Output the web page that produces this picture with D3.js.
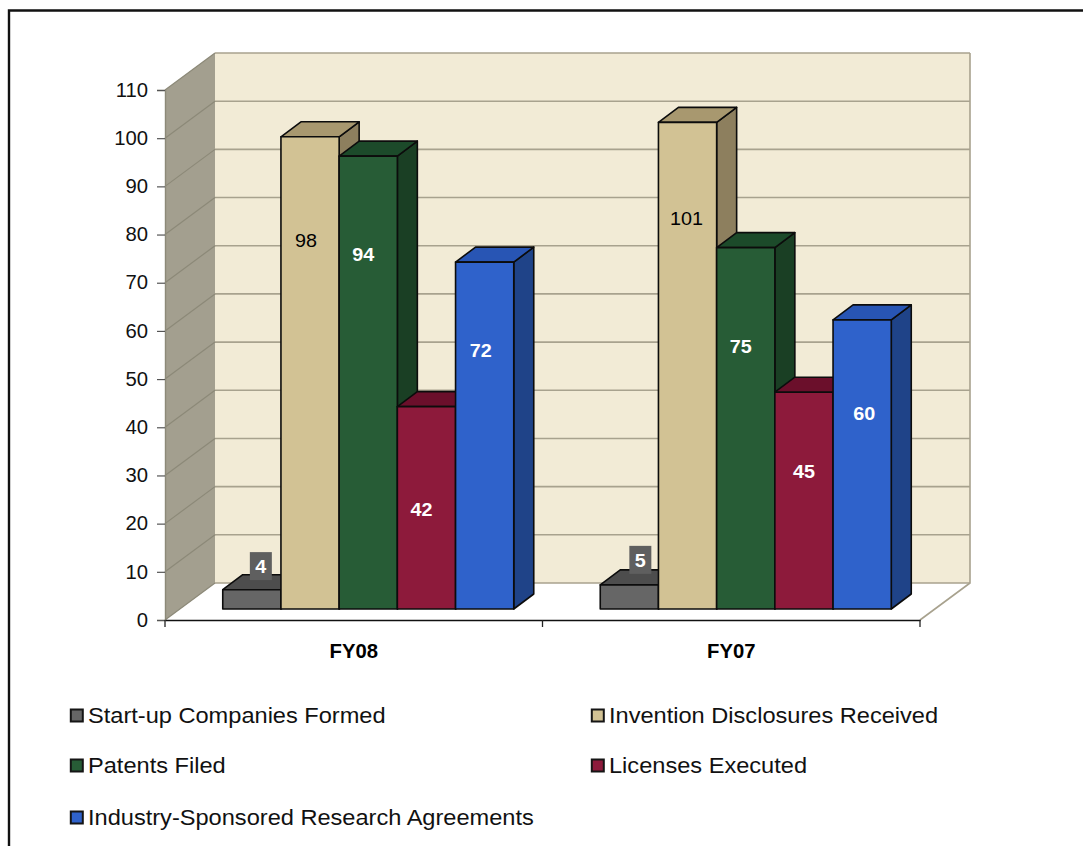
<!DOCTYPE html>
<html>
<head>
<meta charset="utf-8">
<script src="https://cdn.jsdelivr.net/npm/d3@7"></script>
<style>
  html, body { margin: 0; padding: 0; background: #fff; overflow: hidden; }
  svg { display: block; font-family: "Liberation Sans", Arial, sans-serif; }
</style>
</head>
<body>
<svg id="chart" width="1083" height="846"></svg>
<script>
// Fiscal-year groups and series
const years = ["FY08", "FY07"];
const seriesNames = [
  "Start-up Companies Formed",
  "Invention Disclosures Received",
  "Patents Filed",
  "Licenses Executed",
  "Industry-Sponsored Research Agreements"
];
const valuesFY08 = [4, 98, 94, 42, 72];
const valuesFY07 = [5, 101, 75, 45, 60];
const yTicks = [0, 10, 20, 30, 40, 50, 60, 70, 80, 90, 100, 110];

// Face colours per series
const frontColors = ["#666666", "#d2c294", "#275c36", "#8d1a3b", "#2f62cb"];
const topColors   = ["#4d4d4d", "#a8986f", "#1c4a2a", "#6b0f2b", "#2855b4"];
const sideColors  = ["#4a4a4a", "#8d7f5e", "#1a3f24", "#5e0e26", "#1f4388"];
const labelColors = ["#fff", "#000", "#fff", "#fff", "#fff"];

// Hand placement of the value labels: level on the value axis, and sideways nudge
const labelLevelsFY08 = [8.9, 76.6, 73.7, 20.8, 53.8];
const labelLevelsFY07 = [10.2, 81.2, 54.6, 28.6, 40.7];
const labelNudgeFY08 = [9, -4, -5, -5, -4];
const labelNudgeFY07 = [11, -1, -5, 0, 2];

const rows = [valuesFY08, valuesFY07];
const labelLevels = [labelLevelsFY08, labelLevelsFY07];
const labelNudges = [labelNudgeFY08, labelNudgeFY07];

// Plot geometry: front plane, box depth, and bar depth
const plot = { left: 165, right: 920, bottom: 620, top: 90 };
const wall = { dx: 50, dy: -37 };
const barInset = { dx: 14.5, dy: -11 };
const barDepth = { dx: 20, dy: -15 };

// All lettering is set slightly wide
const textWiden = 1.04;
const widen = sel => sel
  .attr("x", function () { return (+this.getAttribute("x") || 0) / textWiden; })
  .attr("transform", `scale(${textWiden},1)`);

const svg = d3.select("#chart");
const y = d3.scaleLinear().domain([0, 110]).range([plot.bottom, plot.top]);
const x0 = d3.scaleBand().domain(years).range([plot.left, plot.right]);
const x1 = d3.scaleBand().domain(d3.range(seriesNames.length))
  .range([0, x0.bandwidth()]).paddingInner(0).paddingOuter(0.743);

// Outer frame
svg.append("path")
  .attr("d", "M9,846V10.5H1083")
  .attr("fill", "none").attr("stroke", "#111").attr("stroke-width", 2.4);

// Back wall, side wall and floor
const wallLine = "#a8a28e";
const backX0 = plot.left + wall.dx, backX1 = plot.right + wall.dx;
const backY = v => y(v) + wall.dy;

svg.append("rect")
  .attr("x", backX0).attr("y", backY(110))
  .attr("width", backX1 - backX0).attr("height", backY(0) - backY(110))
  .attr("fill", "#f2ebd6");

svg.append("path")
  .attr("d", d3.line()([[plot.left, y(0)], [plot.left, y(110)], [backX0, backY(110)], [backX0, backY(0)]]) + "Z")
  .attr("fill", "#a39f8f");

// Gridlines run across the back wall and down the side wall
const grid = svg.append("g").selectAll("g").data(yTicks).join("g");
grid.append("line")
  .attr("x1", backX0).attr("x2", backX1)
  .attr("y1", d => backY(d)).attr("y2", d => backY(d))
  .attr("stroke", wallLine).attr("stroke-width", 1.6);
grid.append("line")
  .attr("x1", plot.left).attr("x2", backX0)
  .attr("y1", d => y(d)).attr("y2", d => backY(d))
  .attr("stroke", "#8c8978").attr("stroke-width", 1.2);

svg.append("path")
  .attr("d", d3.line()([[backX1, backY(110)], [backX1, backY(0)], [plot.right, y(0)]]))
  .attr("fill", "none").attr("stroke", wallLine).attr("stroke-width", 1.6);

// Bars, painted left to right so each one overlaps its neighbour's side face
const face = pts => d3.line()(pts) + "Z";
years.forEach((year, g) => {
  const group = svg.append("g");
  rows[g].forEach((v, i) => {
    const xa = x0(year) + x1(i) + barInset.dx;
    const xb = xa + x1.bandwidth();
    const yb = y(0) + barInset.dy;
    const yt = y(v) + barInset.dy;
    const d = barDepth;
    const bar = group.append("g")
      .attr("stroke", "#0c0c0c").attr("stroke-width", 1.6).attr("stroke-linejoin", "round");
    bar.append("path")
      .attr("d", face([[xb, yb], [xb, yt], [xb + d.dx, yt + d.dy], [xb + d.dx, yb + d.dy]]))
      .attr("fill", sideColors[i]);
    bar.append("path")
      .attr("d", face([[xa, yt], [xa + d.dx, yt + d.dy], [xb + d.dx, yt + d.dy], [xb, yt]]))
      .attr("fill", topColors[i]);
    bar.append("path")
      .attr("d", face([[xa, yb], [xa, yt], [xb, yt], [xb, yb]]))
      .attr("fill", frontColors[i]);
  });
});

// Value labels, drawn above every bar
years.forEach((year, g) => {
  rows[g].forEach((v, i) => {
    const cx = x0(year) + x1(i) + barInset.dx + x1.bandwidth() / 2 + labelNudges[g][i];
    const cy = y(labelLevels[g][i]) + barInset.dy;
    if (i === 0) {
      svg.append("rect")
        .attr("x", cx - 11).attr("y", cy - 14)
        .attr("width", 22).attr("height", 28)
        .attr("fill", "#5f5f5f");
    }
    svg.append("text")
      .attr("x", cx).attr("y", cy)
      .attr("dy", "0.36em")
      .attr("text-anchor", "middle")
      .attr("font-size", 19)
      .attr("font-weight", i === 1 ? 400 : 700)
      .attr("fill", labelColors[i])
      .text(v)
      .call(widen);
  });
});

// Value axis
const yAxis = svg.append("g")
  .attr("transform", `translate(${plot.left},0)`)
  .call(d3.axisLeft(y).tickValues(yTicks).tickSize(8).tickPadding(9));
yAxis.select(".domain").attr("stroke", "#8c8978").attr("stroke-width", 1.4);
yAxis.selectAll(".tick line").attr("stroke", "#555").attr("stroke-width", 1.2);
yAxis.selectAll("text")
  .attr("font-size", 19.5).attr("font-family", null).attr("fill", "#111")
  .call(widen);

// Category axis: labels from the band scale, ticks on the band boundaries
const xAxis = svg.append("g")
  .attr("transform", `translate(0,${plot.bottom})`)
  .call(d3.axisBottom(x0).tickSize(0).tickPadding(24));
xAxis.select(".domain").attr("stroke", "#111").attr("stroke-width", 1.6);
xAxis.selectAll("text")
  .attr("font-size", 19.5).attr("font-weight", 700).attr("font-family", null)
  .attr("fill", "#000")
  .call(widen);
xAxis.selectAll("line.edge")
  .data([plot.left, x0(years[1]), plot.right])
  .join("line").attr("class", "edge")
  .attr("x1", d => d).attr("x2", d => d).attr("y1", 0).attr("y2", 7)
  .attr("stroke", "#222").attr("stroke-width", 1.3);

// Legend, laid out in two columns
const legendColumns = [70, 591];
const legendRows = [715, 765, 817];
const legend = svg.append("g").selectAll("g").data(seriesNames).join("g")
  .attr("transform", (d, i) => `translate(${legendColumns[i % 2]},${legendRows[Math.floor(i / 2)]})`);
legend.append("rect")
  .attr("x", 0.8).attr("y", -5.5).attr("width", 12).attr("height", 12)
  .attr("fill", (d, i) => frontColors[i])
  .attr("stroke", "#151515").attr("stroke-width", 2);
legend.append("text")
  .attr("x", 18).attr("dy", "0.36em")
  .attr("font-size", 22.7).attr("fill", "#111")
  .text(d => d)
  .call(widen);
</script>
</body>
</html>
